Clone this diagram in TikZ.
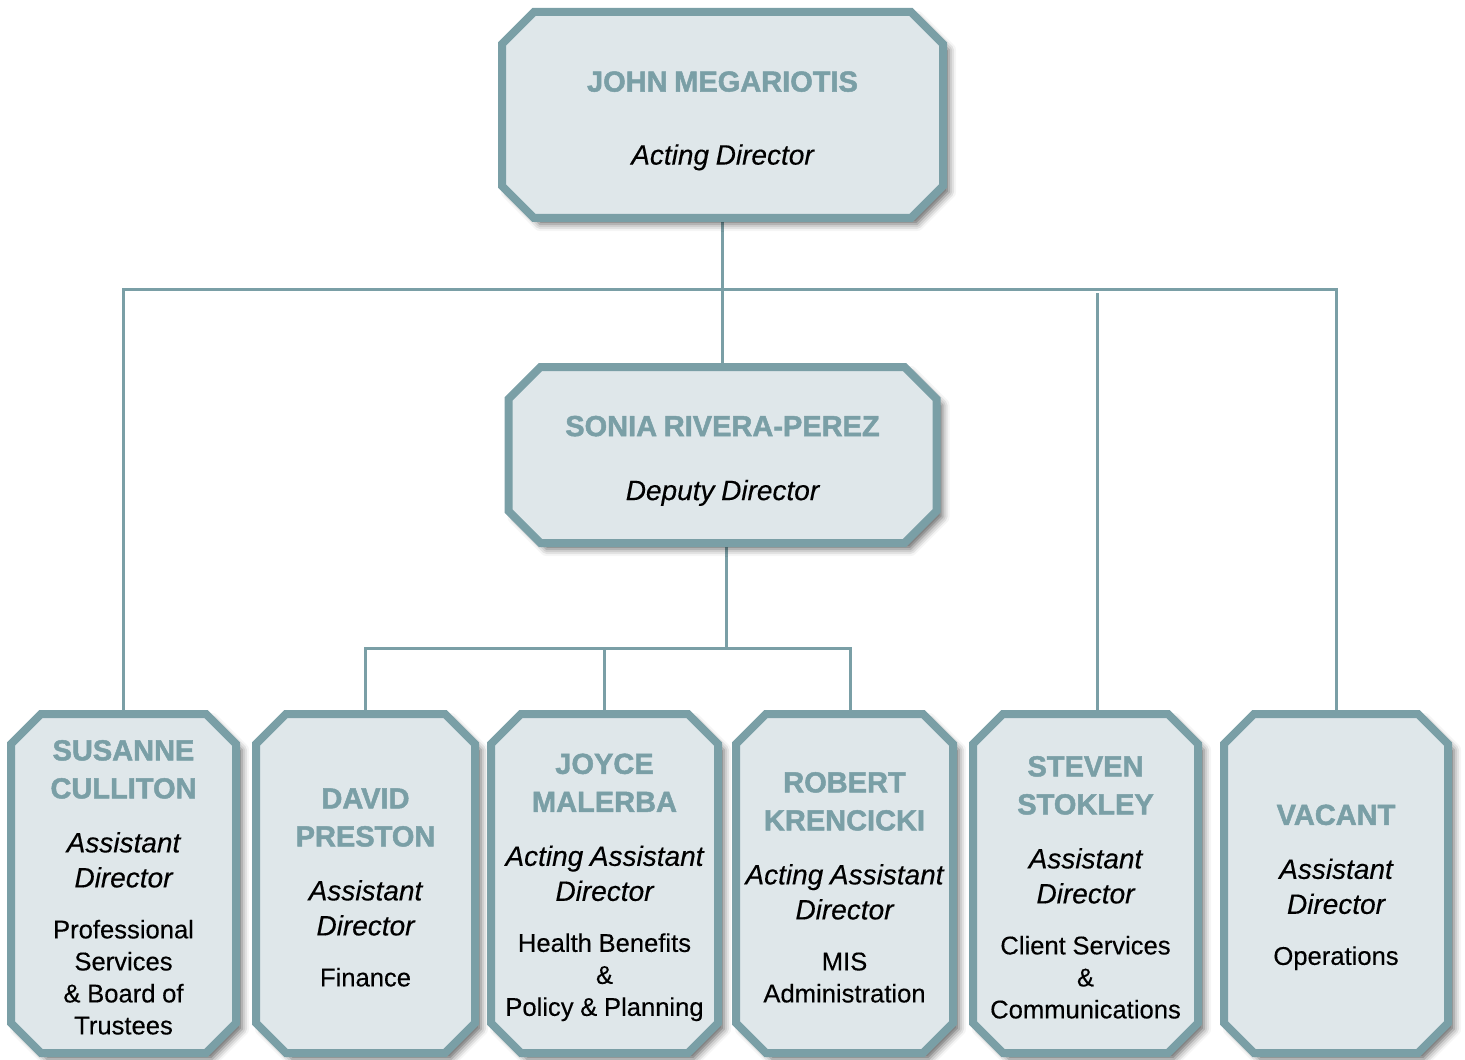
\documentclass[tikz,border=0pt]{standalone}
\usepackage{fontspec}
\setmainfont{Liberation Sans}[UprightFeatures={FakeBold=0.3},ItalicFeatures={FakeBold=0.3},BoldFeatures={FakeBold=1.6}]
\usetikzlibrary{positioning,shadows.blur}

\definecolor{orgteal}{HTML}{7A9FA6}
\definecolor{orgfill}{HTML}{DFE7EA}

\pgfdeclarelayer{lines}
\pgfdeclarelayer{boxes}
\pgfsetlayers{lines,boxes,main}

\newcommand{\who}[2][14pt]{{\color{orgteal}\fontsize{14.5}{19}\selectfont\bfseries\rule{0pt}{#1}#2\par}}
\newcommand{\role}[1]{{\fontsize{14}{17.5}\selectfont\itshape #1\par}}
\newcommand{\dept}[1]{{\fontsize{12.8}{16}\selectfont #1\par}}

\begin{document}
\begin{tikzpicture}[x=0.5pt,y=-0.5pt,
    conn/.style={draw=orgteal,line width=1.5pt},
    topbox/.style={inner sep=0pt,outer sep=0pt,align=center,text width=200pt},
    orgbox/.style={inner sep=0pt,outer sep=0pt,align=center,text width=104pt,minimum height=169.5pt},
    frame/.style={draw=orgteal,fill=orgfill,line width=4pt,line join=miter,
        blur shadow={shadow xshift=3pt,shadow yshift=-3pt,shadow blur radius=3.5pt,shadow opacity=60}}]
    \useasboundingbox (0,0) rectangle (1465,1059);

    \node[topbox,minimum width=220.5pt,minimum height=103pt] (dir) at (722.5,115)
        {\who[16pt]{JOHN MEGARIOTIS}\vspace{19pt}\role{Acting Director}};
    \node[topbox,minimum width=214pt,minimum height=88pt] (dep) [below=74.5pt of dir]
        {\who[16pt]{SONIA RIVERA-PEREZ}\vspace{14.5pt}\role{Deputy Director}};

    \node[orgbox,minimum width=112.5pt] (su) at (123.5,883.5)
        {\who{SUSANNE\\CULLITON}\vspace{9.5pt}\role{Assistant\\Director}\vspace{9.5pt}\dept{Professional\\Services\\\& Board of\\Trustees}};
    \node[orgbox,minimum width=109.5pt] (da) [right=10pt of su]
        {\who{DAVID\\PRESTON}\vspace{9.5pt}\role{Assistant\\Director}\vspace{9.5pt}\dept{Finance}};
    \node[orgbox,minimum width=113.5pt] (jo) [right=8pt of da]
        {\who{JOYCE\\MALERBA}\vspace{9.5pt}\role{Acting Assistant\\Director}\vspace{9.5pt}\dept{Health Benefits\\\&\\Policy \& Planning}};
    \node[orgbox,minimum width=108.5pt] (ro) [right=9pt of jo]
        {\who{ROBERT\\KRENCICKI}\vspace{9.5pt}\role{Acting Assistant\\Director}\vspace{9.5pt}\dept{MIS\\Administration}};
    \node[orgbox,minimum width=112.5pt] (st) [right=10pt of ro]
        {\who{STEVEN\\STOKLEY}\vspace{9.5pt}\role{Assistant\\Director}\vspace{9.5pt}\dept{Client Services\\\&\\Communications}};
    \node[orgbox,minimum width=112pt] (va) [right=13pt of st]
        {\who{VACANT}\vspace{9.5pt}\role{Assistant\\Director}\vspace{9.5pt}\dept{Operations}};

    % chamfered frames behind the text
    \begin{pgfonlayer}{boxes}
        \foreach \b/\c in {dir/16pt,dep/16pt,su/15pt,da/15pt,jo/15pt,ro/15pt,st/15pt,va/15pt}
            \path[frame] ([xshift=\c]\b.north west) -- ([xshift=-\c]\b.north east)
                -- ([yshift=-\c]\b.north east) -- ([yshift=\c]\b.south east)
                -- ([xshift=-\c]\b.south east) -- ([xshift=\c]\b.south west)
                -- ([yshift=\c]\b.south west) -- ([yshift=-\c]\b.north west) -- cycle;
    \end{pgfonlayer}

    % connectors
    \begin{pgfonlayer}{lines}
        \coordinate (bus) at (722,289);
        \coordinate (bus2) at (726,648);
        \draw[conn] (dir.south) -- (dir.south |- dep.north);
        \draw[conn] (su.north) |- (va.north |- bus) -- (va.north);
        \draw[conn] ([xshift=5.75pt]st.north) -- ++(0,-421);
        \draw[conn] (dep.south -| bus2) -- (bus2);
        \draw[conn] (da.north) |- ([xshift=2.75pt]ro.north |- bus2) -- ([xshift=2.75pt]ro.north);
        \draw[conn] (jo.north) -- (jo.north |- bus2);
    \end{pgfonlayer}
\end{tikzpicture}
\end{document}
